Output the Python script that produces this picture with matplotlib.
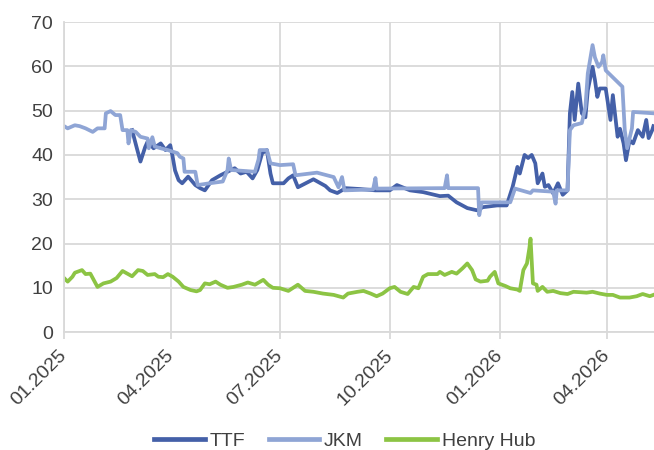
import pandas as pd
import matplotlib
matplotlib.use("Agg")
import matplotlib.pyplot as plt
import matplotlib.dates as mdates

# days counted from 01.01.2025
ttf_day = [57, 61, 64, 68, 70, 75, 81, 85, 89, 91, 93, 96, 99, 104, 110, 114, 118, 124, 131,
           137, 143, 148, 153, 158, 162, 166, 170, 173, 175, 184, 188, 192, 196, 209, 219, 223,
           229, 236, 248, 261, 273, 279, 290, 301, 315, 322, 329, 338, 346, 351, 363, 371, 376,
           380, 382, 386, 389, 392, 395, 397, 401, 403, 406, 410, 414, 418, 422, 424, 426, 428,
           431, 434, 437, 439, 443, 445, 447, 449, 454, 458, 460, 464, 466, 469, 471, 474, 477,
           481, 485, 488, 490, 493, 494]
ttf = [45.6, 41.5, 38.5, 41.8, 43.0, 41.5, 42.6, 41.1, 42.2, 39.6, 36.5, 34.3, 33.6, 35.1, 33.2,
       32.5, 32.0, 34.3, 35.4, 36.2, 37.0, 35.8, 36.2, 34.7, 36.6, 40.4, 41.1, 35.8, 33.6, 33.6,
       34.7, 35.4, 32.7, 34.5, 33.0, 32.0, 31.4, 32.5, 32.3, 32.0, 32.0, 33.2, 32.0, 31.6, 30.7,
       30.8, 29.3, 28.0, 27.5, 28.2, 28.6, 28.6, 32.8, 37.3, 35.8, 40.0, 39.3, 40.0, 38.1, 33.6,
       35.8, 32.8, 33.2, 31.3, 33.6, 31.0, 32.0, 49.4, 54.2, 47.9, 56.1, 49.4, 48.5, 54.6, 59.9,
       56.9, 53.1, 55.0, 55.0, 47.9, 53.5, 44.1, 45.9, 42.6, 38.8, 43.3, 42.6, 45.6, 44.1, 47.9,
       43.8, 45.6, 46.5]

jkm_day = [0, 3, 9, 13, 18, 24, 28, 33, 34, 35, 39, 43, 47, 49, 53, 54, 56, 60, 64, 70, 71, 74,
           76, 81, 87, 95, 97, 100, 101, 110, 112, 122, 133, 137, 138, 140, 160, 163, 164, 170,
           173, 181, 192, 194, 212, 226, 230, 233, 235, 259, 261, 262, 319, 321, 322, 347, 348,
           350, 374, 378, 391, 393, 410, 412, 413, 422, 424, 427, 434, 437, 439, 443, 445, 448,
           451, 452, 454, 468, 470, 472, 476, 477, 494]
jkm = [46.5, 46.0, 46.7, 46.5, 46.0, 45.2, 46.0, 46.0, 46.0, 49.4, 49.9, 49.0, 49.0, 45.6, 45.6,
       42.6, 45.6, 45.2, 44.1, 43.7, 41.5, 44.0, 41.9, 41.5, 41.1, 40.4, 39.6, 39.2, 36.2, 36.2,
       33.2, 33.6, 34.0, 36.6, 39.2, 36.6, 36.2, 39.0, 41.1, 41.1, 38.1, 37.7, 37.9, 35.4, 36.0,
       35.0, 32.7, 35.0, 32.0, 32.2, 34.8, 32.4, 32.5, 35.4, 32.5, 32.5, 26.4, 29.3, 29.3, 32.4,
       31.4, 32.0, 31.7, 29.0, 32.0, 32.0, 45.6, 46.7, 47.2, 50.8, 58.4, 64.8, 62.0, 59.9, 61.0,
       62.5, 59.1, 55.4, 45.6, 41.5, 46.0, 49.7, 49.4]

hh_day = [0, 3, 7, 9, 15, 18, 22, 24, 28, 33, 39, 44, 49, 53, 57, 62, 66, 70, 76, 79, 83, 87, 91,
          96, 100, 106, 111, 114, 118, 122, 127, 131, 137, 142, 149, 154, 160, 167, 171, 175, 181,
          188, 196, 202, 209, 217, 226, 234, 238, 246, 251, 257, 262, 267, 273, 277, 282, 288,
          293, 297, 301, 305, 313, 315, 319, 325, 329, 334, 338, 342, 345, 349, 355, 357, 361,
          364, 370, 374, 380, 382, 385, 388, 390, 391, 393, 396, 397, 401, 405, 410, 416, 422,
          427, 433, 438, 443, 449, 455, 460, 466, 474, 480, 485, 491, 494]
hh = [12.2, 11.4, 12.5, 13.4, 14.0, 13.1, 13.2, 12.2, 10.2, 11.0, 11.4, 12.2, 13.8, 13.2, 12.6,
      14.0, 13.8, 12.9, 13.1, 12.5, 12.4, 13.1, 12.5, 11.4, 10.2, 9.5, 9.2, 9.5, 11.0, 10.8, 11.4,
      10.7, 10.0, 10.2, 10.7, 11.2, 10.7, 11.8, 10.7, 10.0, 9.9, 9.3, 10.7, 9.3, 9.1, 8.7, 8.4,
      7.8, 8.7, 9.1, 9.3, 8.7, 8.1, 8.7, 9.9, 10.2, 9.1, 8.6, 10.2, 9.9, 12.5, 13.1, 13.1, 13.6,
      12.9, 13.6, 13.2, 14.4, 15.5, 14.0, 11.9, 11.4, 11.6, 12.5, 13.6, 11.0, 10.4, 9.9, 9.6, 9.3,
      14.0, 15.5, 18.9, 21.1, 11.0, 10.7, 9.3, 10.2, 9.1, 9.3, 8.8, 8.6, 9.1, 9.0, 8.9, 9.1, 8.7,
      8.4, 8.4, 7.8, 7.8, 8.1, 8.6, 8.1, 8.4]

tick_dates = ["2025-01-01", "2025-04-01", "2025-07-01", "2025-10-01", "2026-01-01", "2026-04-01"]

start = pd.Timestamp("2025-01-01")


def to_dates(days):
    return start + pd.to_timedelta(days, unit="D")


plt.rcParams["font.family"] = ["Liberation Sans", "DejaVu Sans"]
grid_col = "#d9d9d9"
text_col = "#404040"

fig = plt.figure(figsize=(6.54, 4.5), dpi=100)
ax = fig.add_axes([0.098, 0.262, 0.902, 0.689])

ax.plot(to_dates(ttf_day), ttf, color="#4460a8", lw=2.7, label="TTF", solid_joinstyle="round")
ax.plot(to_dates(jkm_day), jkm, color="#8fa5d5", lw=2.7, label="JKM", solid_joinstyle="round")
ax.plot(to_dates(hh_day), hh, color="#8cc444", lw=2.7, label="Henry Hub", solid_joinstyle="round")

ax.set_ylim(0, 70)
ax.set_yticks(range(0, 71, 10))
ax.set_xlim(start, start + pd.Timedelta(days=494.5))
ax.set_xticks(pd.to_datetime(tick_dates))
ax.xaxis.set_major_formatter(mdates.DateFormatter("%m.%Y"))

ax.grid(True, color=grid_col, lw=1.3)
ax.set_axisbelow(True)
for side in ["top", "right"]:
    ax.spines[side].set_visible(False)
for side in ["left", "bottom"]:
    ax.spines[side].set_color(grid_col)
    ax.spines[side].set_linewidth(1.3)

ax.tick_params(axis="y", length=0, pad=8, labelsize=14, labelcolor=text_col)
ax.tick_params(axis="x", length=5, width=1.3, color=grid_col, pad=10,
               labelsize=14, labelcolor=text_col)
for lab in ax.get_xticklabels():
    lab.set_rotation(45)
    lab.set_ha("right")
    lab.set_va("center")
    lab.set_rotation_mode("anchor")

leg = fig.legend(loc="center", bbox_to_anchor=(0.527, 0.02), ncol=3, frameon=False,
                 fontsize=14, handlelength=2.6, columnspacing=1.2, handletextpad=0.25)
for line in leg.get_lines():
    line.set_linewidth(3.4)
for t in leg.get_texts():
    t.set_color(text_col)

fig.savefig("out.png", dpi=100)
